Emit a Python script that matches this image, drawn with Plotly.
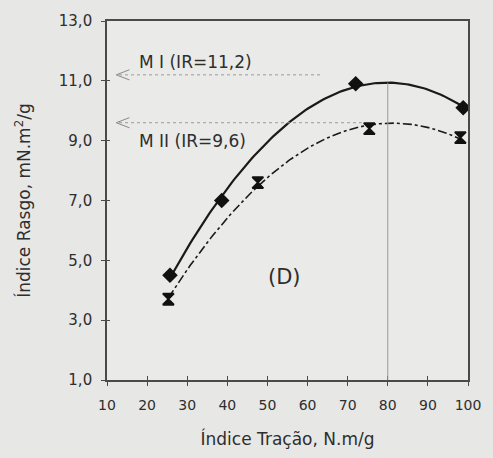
import numpy as np
import plotly.graph_objects as go

# Tensile index (N.m/g) vs tear index (mN.m2/g) for the two pulps
x_m1 = [25.7, 38.6, 72.0, 98.8]
y_m1 = [4.5, 7.0, 10.9, 10.1]
x_m2 = [25.3, 47.6, 75.4, 98.1]
y_m2 = [3.7, 7.6, 9.4, 9.1]

# Tear index read at the reference tensile index
ir_m1 = 11.2
ir_m2 = 9.6
ir_labels = ["M I (IR=11,2)", "M II (IR=9,6)"]
x_ref = 80

x_ticks = [10, 20, 30, 40, 50, 60, 70, 80, 90, 100]
y_ticks = [1.0, 3.0, 5.0, 7.0, 9.0, 11.0, 13.0]
y_tick_text = [f"{v:.1f}".replace(".", ",") for v in y_ticks]

FONT = "DejaVu Sans"
INK = "#2e2e2e"
GRID = "#9a9a9a"

# Second-order trend lines through each series
c1 = np.polyfit(x_m1, y_m1, 2)
c2 = np.polyfit(x_m2, y_m2, 2)
xf1 = np.linspace(min(x_m1), max(x_m1), 120)
xf2 = np.linspace(min(x_m2), max(x_m2), 120)
yf1 = np.polyval(c1, xf1)
yf2 = np.polyval(c2, xf2)
y_at_ref = float(np.polyval(c1, x_ref))

fig = go.Figure()

fig.add_trace(go.Scatter(x=xf1, y=yf1, mode="lines",
                         line=dict(color="#1a1a1a", width=2.2),
                         hoverinfo="skip", showlegend=False))
fig.add_trace(go.Scatter(x=xf2, y=yf2, mode="lines",
                         line=dict(color="#1a1a1a", width=1.6, dash="dashdot"),
                         hoverinfo="skip", showlegend=False))
fig.add_trace(go.Scatter(x=x_m1, y=y_m1, mode="markers", name="M I",
                         marker=dict(symbol="diamond", size=12, color="#111111"),
                         showlegend=False))
fig.add_trace(go.Scatter(x=x_m2, y=y_m2, mode="markers", name="M II",
                         marker=dict(symbol="hourglass", size=11, color="#111111",
                                     line=dict(color="#111111", width=1.8)),
                         showlegend=False))
# carrier trace for the overlay axes that hold the inner tick marks
fig.add_trace(go.Scatter(x=[None], y=[None], xaxis="x2", yaxis="y2",
                         showlegend=False, hoverinfo="skip"))

shapes = []
# vertical reference at x_ref up to the M I trend line
shapes.append(dict(type="line", xref="x", yref="y", x0=x_ref, x1=x_ref,
                   y0=y_ticks[0], y1=y_at_ref,
                   line=dict(color=GRID, width=1)))
# horizontal IR guides with open arrowheads at the axis
for ir, x_end in [(ir_m1, 63.5), (ir_m2, 73.5)]:
    shapes.append(dict(type="line", xref="x", yref="y", x0=13.0, x1=x_end,
                       y0=ir, y1=ir, line=dict(color=GRID, width=1, dash="dot")))
    shapes.append(dict(type="path", xref="x", yref="y",
                       path=f"M 15.6 {ir + 0.17} L 12.3 {ir} L 15.6 {ir - 0.17}",
                       line=dict(color="#8a8a8a", width=1)))

annotations = [
    dict(x=17.6, y=11.62, xref="x", yref="y", text=ir_labels[0], showarrow=False,
         xanchor="left", font=dict(family=FONT, size=17, color=INK)),
    dict(x=17.6, y=9.0, xref="x", yref="y", text=ir_labels[1], showarrow=False,
         xanchor="left", font=dict(family=FONT, size=17, color=INK)),
    dict(x=54.3, y=4.45, xref="x", yref="y", text="(D)", showarrow=False,
         font=dict(family=FONT, size=21, color=INK)),
]

axis_line = dict(showline=True, linecolor="#4a4a4a", linewidth=1.6,
                 showgrid=False, zeroline=False)

fig.update_layout(
    width=493, height=458,
    margin=dict(l=107, r=17, t=21, b=78),
    paper_bgcolor="#e7e7e5",
    plot_bgcolor="#eaeae8",
    font=dict(family=FONT, color=INK),
    shapes=shapes,
    annotations=annotations,
    xaxis=dict(range=[10, 100], tickvals=x_ticks, ticks="outside", ticklen=4,
               tickcolor="#4a4a4a", tickwidth=1.2, mirror=True,
               ticklabelstandoff=7,
               tickfont=dict(family=FONT, size=14, color=INK),
               title=dict(text="Índice Tração, N.m/g", standoff=22,
                          font=dict(family=FONT, size=17, color=INK)),
               **axis_line),
    yaxis=dict(range=[1, 13], tickvals=y_ticks, ticktext=y_tick_text,
               ticks="outside", ticklen=4, tickcolor="#4a4a4a", tickwidth=1.2,
               mirror=True, ticklabelstandoff=6,
               tickfont=dict(family=FONT, size=15, color=INK),
               title=dict(text="Índice Rasgo, mN.m<sup>2</sup>/g", standoff=24,
                          font=dict(family=FONT, size=17, color=INK)),
               **axis_line),
    xaxis2=dict(range=[10, 100], overlaying="x", anchor="y2", side="bottom",
                tickvals=x_ticks, ticks="inside", ticklen=4, tickcolor="#4a4a4a",
                tickwidth=1.2, showticklabels=False, showline=False,
                showgrid=False, zeroline=False),
    yaxis2=dict(range=[1, 13], overlaying="y", anchor="x2", side="left",
                tickvals=y_ticks, ticks="inside", ticklen=3, tickcolor="#4a4a4a",
                tickwidth=1.2, showticklabels=False, showline=False,
                showgrid=False, zeroline=False),
)

fig.write_html("out.html")
